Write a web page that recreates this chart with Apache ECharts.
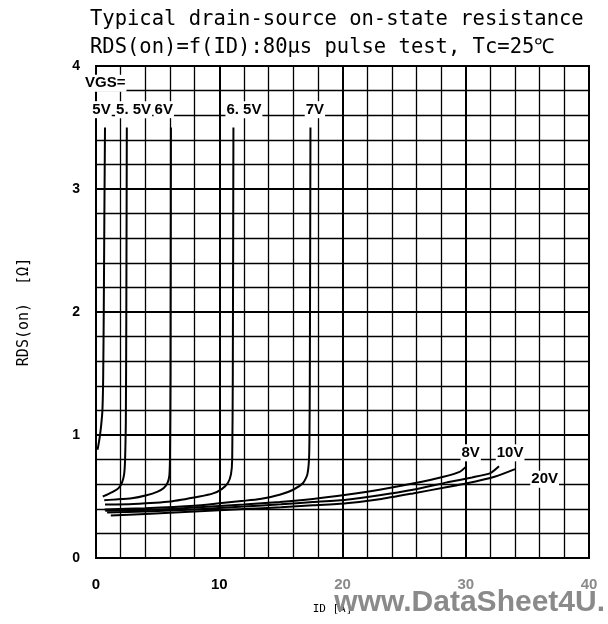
<!DOCTYPE html>
<html><head><meta charset="utf-8">
<script src="https://cdn.jsdelivr.net/npm/echarts@6/dist/echarts.min.js"></script>
<style>html,body{margin:0;padding:0;background:#fff}#c{width:608px;height:624px}</style>
</head><body><div id="c"></div>
<script>
// ---- data (ID in A, RDS(on) in ohm) ----
const titleLine1 = 'Typical drain-source on-state resistance';
const titleLine2 = 'RDS(on)=f(ID):80\u03bcs pulse test, Tc=25\u2103';
const xAxisName = 'ID [A]';
const yAxisName = 'RDS(on)  [\u03a9]';
const xTickLabels = ['0', '10', '20', '30', '40'];
const yTickLabels = ['0', '1', '2', '3', '4'];
const watermark = 'www.DataSheet4U.';

const vgs5_id  = [0.12, 0.2, 0.3, 0.42, 0.52, 0.58, 0.63, 0.68, 0.73];
const vgs5_r   = [0.88, 0.92, 0.98, 1.08, 1.2, 1.45, 2.0, 2.8, 3.5];
const vgs55_id = [0.55, 1.0, 1.5, 1.85, 2.1, 2.28, 2.36, 2.42, 2.46, 2.5];
const vgs55_r  = [0.50, 0.52, 0.545, 0.57, 0.61, 0.68, 0.8, 1.1, 2.0, 3.5];
const vgs6_id  = [0.67, 1.5, 2.9, 4.1, 5.0, 5.5, 5.8, 5.95, 6.0, 6.05, 6.08];
const vgs6_r   = [0.47, 0.475, 0.485, 0.51, 0.54, 0.57, 0.61, 0.67, 0.8, 1.5, 3.5];
const vgs65_id = [0.73, 3, 6.05, 8.4, 9.5, 10.2, 10.7, 10.95, 11.05, 11.1, 11.15];
const vgs65_r  = [0.435, 0.44, 0.46, 0.50, 0.525, 0.56, 0.61, 0.68, 0.8, 1.5, 3.5];
const vgs7_id  = [0.7, 4, 8, 10, 12, 13.3, 14.9, 16.0, 16.8, 17.15, 17.3, 17.35, 17.4];
const vgs7_r   = [0.395, 0.405, 0.425, 0.445, 0.465, 0.48, 0.514, 0.555, 0.61, 0.68, 0.85, 1.5, 3.5];
const vgs8_id  = [0.75, 4, 8, 12, 14.9, 17.6, 20.3, 23, 25.7, 28.2, 29.5, 30.05];
const vgs8_r   = [0.385, 0.39, 0.41, 0.435, 0.455, 0.48, 0.514, 0.555, 0.605, 0.66, 0.7, 0.745];
const vgs10_id = [0.9, 4, 8, 12, 15, 17.6, 20.3, 23, 25.7, 28.5, 30.5, 32, 32.7];
const vgs10_r  = [0.37, 0.378, 0.395, 0.418, 0.437, 0.455, 0.474, 0.51, 0.555, 0.615, 0.655, 0.69, 0.745];
const vgs20_id = [1.2, 4, 8, 12, 15, 17.6, 20.3, 23, 25.7, 28.4, 30, 32.4, 34];
const vgs20_r  = [0.345, 0.358, 0.378, 0.398, 0.413, 0.428, 0.445, 0.478, 0.525, 0.575, 0.605, 0.663, 0.723];

const curveNames = ['5V', '5.5V', '6V', '6.5V', '7V', '8V', '10V', '20V'];
const curveIds = [vgs5_id, vgs55_id, vgs6_id, vgs65_id, vgs7_id, vgs8_id, vgs10_id, vgs20_id];
const curveRs  = [vgs5_r, vgs55_r, vgs6_r, vgs65_r, vgs7_r, vgs8_r, vgs10_r, vgs20_r];

// curve annotations (data coordinates)
const noteText = ['VGS=', '5V', '5. 5V', '6V', '6. 5V', '7V', '8V', '10V', '20V'];
const noteId   = [0.75, 0.45, 3.05, 5.5, 12.0, 17.76, 30.4, 33.6, 36.4];
const noteR    = [3.86, 3.645, 3.645, 3.645, 3.645, 3.645, 0.855, 0.855, 0.64];

// ---- chart ----
const chart = echarts.init(document.getElementById('c'), null, {renderer: 'canvas'});
const lineSeries = curveNames.map((n, i) => ({
  name: n, type: 'line', showSymbol: false, symbol: 'none', smooth: 0.2,
  data: curveIds[i].map((x, k) => [x, curveRs[i][k]]),
  lineStyle: {color: '#000', width: 2}, z: 3, silent: true
}));
const option = {
  animation: false,
  backgroundColor: '#fff',
  title: [
    {text: titleLine1, left: 85, top: 4, textStyle: {fontFamily: 'DejaVu Sans Mono', fontSize: 20.5, fontWeight: 'normal', color: '#000'}},
    {text: titleLine2, left: 85, top: 32, textStyle: {fontFamily: 'DejaVu Sans Mono', fontSize: 20.5, fontWeight: 'normal', color: '#000'}}
  ],
  grid: {left: 96, right: 19, top: 66, bottom: 66, containLabel: false, show: true, borderColor: '#000', borderWidth: 2, backgroundColor: 'transparent'},
  xAxis: {
    type: 'value', min: 0, max: 40, interval: 10,
    name: xAxisName, nameLocation: 'middle', nameGap: 46,
    nameTextStyle: {fontFamily: 'DejaVu Sans Mono', fontSize: 11, color: '#000', padding: [0, 20, 0, 0]},
    axisLine: {show: true, lineStyle: {color: '#000', width: 2}},
    axisTick: {show: false},
    axisLabel: {margin: 19, fontFamily: 'Liberation Sans', fontWeight: 'bold', fontSize: 15,
      formatter: (v) => xTickLabels[Math.round(v / 10)],
      color: (v) => (v >= 20 ? '#8a8a8a' : '#000')},
    splitLine: {show: true, lineStyle: {color: '#000', width: 2}},
    minorTick: {show: false, splitNumber: 5},
    minorSplitLine: {show: true, lineStyle: {color: '#000', width: 1.3}}
  },
  yAxis: {
    type: 'value', min: 0, max: 4, interval: 1,
    name: yAxisName, nameLocation: 'middle', nameGap: 64, nameRotate: 90,
    nameTextStyle: {fontFamily: 'DejaVu Sans Mono', fontSize: 15, color: '#000'},
    axisLine: {show: true, lineStyle: {color: '#000', width: 2}},
    axisTick: {show: false},
    axisLabel: {margin: 16, fontFamily: 'Liberation Sans', fontWeight: 'bold', fontSize: 14, color: '#000',
      formatter: (v) => yTickLabels[Math.round(v)]},
    splitLine: {show: true, lineStyle: {color: '#000', width: 2}},
    minorTick: {show: false, splitNumber: 5},
    minorSplitLine: {show: true, lineStyle: {color: '#000', width: 1.3}}
  },
  graphic: [{
    type: 'text', right: 3, bottom: 6, z: 100,
    style: {text: watermark, fill: '#8a8a8a', font: 'bold 30px "Liberation Sans"'}
  }],
  series: lineSeries.concat([{
    type: 'scatter', symbolSize: 0, z: 5, silent: true, clip: false,
    itemStyle: {color: '#000', opacity: 1},
    data: noteText.map((t, i) => ({name: t, value: [noteId[i], noteR[i]]})),
    label: {show: true, position: 'inside', formatter: (p) => p.name, color: '#000', opacity: 1,
      textBorderWidth: 0, textShadowBlur: 0,
      fontFamily: 'Liberation Sans', fontWeight: 'bold', fontSize: 15, backgroundColor: '#fff', padding: [1, 1, 1, 1]}
  }])
};
chart.setOption(option);
</script>
</body></html>
